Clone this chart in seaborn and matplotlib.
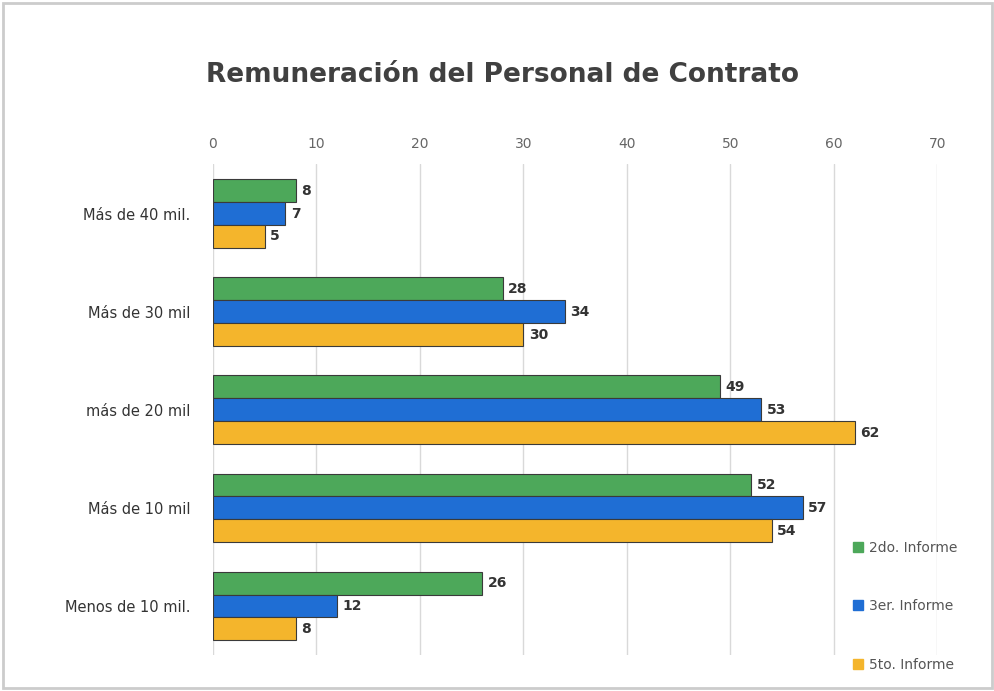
import matplotlib
matplotlib.use("Agg")
import matplotlib.pyplot as plt
import seaborn as sns
import pandas as pd
from matplotlib.patches import Rectangle

categories = ["Más de 40 mil.", "Más de 30 mil", "más de 20 mil", "Más de 10 mil", "Menos de 10 mil."]
series = ["2do. Informe", "3er. Informe", "5to. Informe"]
v2do = [8, 28, 49, 52, 26]
v3er = [7, 34, 53, 57, 12]
v5to = [5, 30, 62, 54, 8]
colors = ["#4da85a", "#1f6ed4", "#f4b52c"]

rows = []
for s, vals in zip(series, [v2do, v3er, v5to]):
    for c, v in zip(categories, vals):
        rows.append({"cat": c, "serie": s, "val": v})
df = pd.DataFrame(rows)

sns.set_theme(style="white")
plt.rcParams['font.family'] = ['DejaVu Sans']

fig = plt.figure(figsize=(9.95, 6.91), dpi=100)
ax = fig.add_axes([0.214, 0.052, 0.728, 0.71])
sns.barplot(data=df, y="cat", x="val", hue="serie", order=categories,
            hue_order=series, palette=colors, orient="h", width=0.7,
            saturation=1, edgecolor="#3a3a3a", linewidth=0.8, ax=ax, legend=False)

for cont in ax.containers:
    ax.bar_label(cont, padding=4, fontsize=10, fontweight="bold", color="#333333")

ax.set_xlim(0, 70)
ax.set_xticks(range(0, 71, 10))
ax.xaxis.tick_top()
ax.tick_params(axis="x", labelsize=10, colors="#666666", length=0, pad=10)
ax.tick_params(axis="y", labelsize=10.5, colors="#333333", length=0, pad=16)
ax.set_xlabel("")
ax.set_ylabel("")
ax.grid(axis="x", color="#d9d9d9", linewidth=1)
ax.set_axisbelow(True)
for sp in ax.spines.values():
    sp.set_visible(False)

fig.suptitle("Remuneración del Personal de Contrato", x=0.505, y=0.91,
             fontsize=19, fontweight="bold", color="#404040")

handles = [Rectangle((0, 0), 1, 1, color=c) for c in colors]
fig.legend(handles, series, loc="lower left", bbox_to_anchor=(0.845, 0.01),
           frameon=False, fontsize=10, labelspacing=3.2, handlelength=0.7,
           handleheight=0.7, handletextpad=0.4, labelcolor="#555555")

fig.patches.append(Rectangle((0.003, 0.005), 0.994, 0.99, transform=fig.transFigure,
                             fill=False, edgecolor="#cccccc", linewidth=2))

fig.savefig("out.png", dpi=100)
